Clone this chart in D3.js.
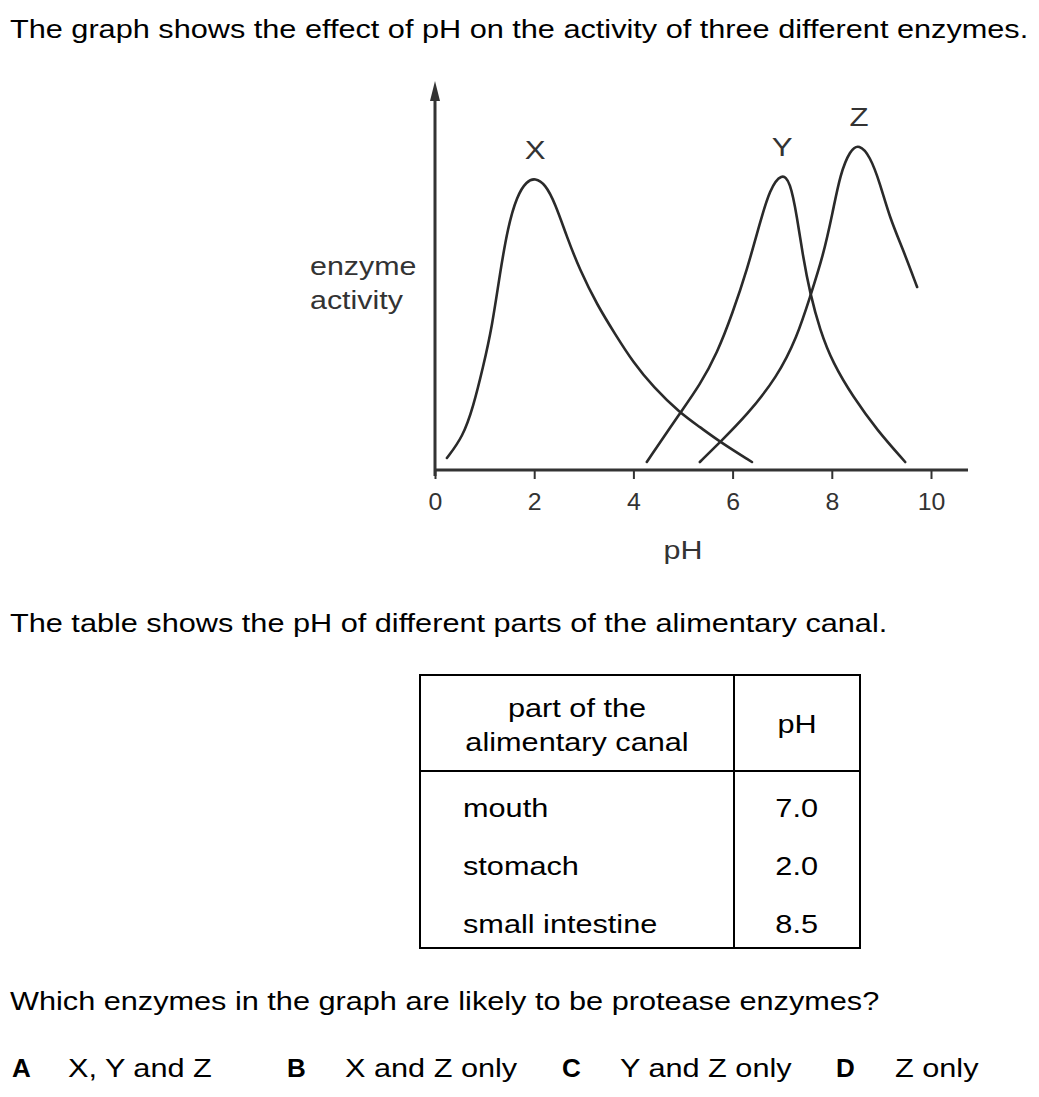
<!DOCTYPE html>
<html>
<head>
<meta charset="utf-8">
<script src="https://cdn.jsdelivr.net/npm/d3@7"></script>
<style>
  html, body { margin: 0; padding: 0; background: #fff; }
  svg { display: block; }
  text { font-family: "Liberation Sans", Arial, sans-serif; fill: #000; }
</style>
</head>
<body>
<script>
// ---------- data ----------
const introText = "The graph shows the effect of pH on the activity of three different enzymes.";
const tableIntro = "The table shows the pH of different parts of the alimentary canal.";
const questionText = "Which enzymes in the graph are likely to be protease enzymes?";
const xTicks = [0, 2, 4, 6, 8, 10];
const xLabel = "pH";
const yLabel = ["enzyme", "activity"];

// enzyme X curve: [pH, activity]
const enzymeX = [[0.24, 12], [0.56, 33], [0.77, 63], [0.97, 103], [1.15, 143], [1.31, 197], [1.47, 243],
  [1.65, 274], [1.85, 289], [2.02, 292], [2.22, 286], [2.42, 267], [2.66, 233], [2.92, 200], [3.27, 165],
  [3.63, 136], [3.99, 108], [4.4, 83], [4.94, 57], [5.34, 43], [5.75, 28], [6.39, 8]];
// enzyme Y curve
const enzymeY = [[4.27, 8], [4.94, 57], [5.34, 85], [5.69, 117], [6.0, 157], [6.29, 200], [6.55, 247],
  [6.75, 281], [6.99, 297], [7.16, 289], [7.3, 253], [7.42, 213], [7.56, 177], [7.76, 140], [8.02, 107],
  [8.43, 73], [8.91, 40], [9.48, 8]];
// enzyme Z curve
const enzymeZ = [[5.34, 8], [5.75, 28], [6.29, 55], [6.9, 93], [7.3, 133], [7.56, 173], [7.82, 213],
  [8.02, 258], [8.17, 296], [8.37, 320], [8.55, 326], [8.77, 314], [8.97, 287], [9.17, 252], [9.44, 220],
  [9.72, 183]];
const curveNames = ["X", "Y", "Z"];
const curvePeaks = [[2.02, 291], [7.0, 294], [8.55, 324]];

const tableHeader = [["part of the", "alimentary canal"], ["pH"]];
const tableParts = ["mouth", "stomach", "small intestine"];
const tablePH = ["7.0", "2.0", "8.5"];

const answerLetters = ["A", "B", "C", "D"];
const answerTexts = ["X, Y and Z", "X and Z only", "Y and Z only", "Z only"];

// ---------- drawing ----------
const W = 1039, H = 1097;
const svg = d3.select("body").append("svg").attr("width", W).attr("height", H);

const SX = 1.18; // horizontal glyph stretch seen in the reference
function addText(parent, x, y, str, o = {}) {
  return parent.append("text")
    .attr("transform", `translate(${x},${y}) scale(${o.sx || SX},1)`)
    .attr("text-anchor", o.anchor || "start")
    .attr("font-size", o.size || 26)
    .attr("font-weight", o.weight || "normal")
    .style("fill", o.fill || "#000")
    .text(str);
}

addText(svg, 10, 38, introText);

const x = d3.scaleLinear().domain([0, 10]).range([435, 931]);
const y = d3.scaleLinear().domain([0, 390]).range([470, 80]);

const axisColor = "#333";
// x axis
const xAxis = svg.append("g").attr("transform", `translate(0,${y(0)})`)
  .call(d3.axisBottom(x).tickValues(xTicks).tickSize(9).tickSizeOuter(0).tickFormat(""));
xAxis.select(".domain").remove();
xAxis.selectAll(".tick line").attr("stroke", axisColor).attr("stroke-width", 2);
xAxis.selectAll(".tick").each(function (d) {
  addText(d3.select(this), 0, 40, String(d), { size: 23, anchor: "middle", sx: 1.08, fill: "#333" });
});
svg.append("line").attr("x1", x(0) - 1).attr("x2", 968).attr("y1", y(0)).attr("y2", y(0))
  .attr("stroke", axisColor).attr("stroke-width", 3);
// y axis
svg.append("line").attr("x1", x(0)).attr("x2", x(0)).attr("y1", y(0) + 6).attr("y2", 95)
  .attr("stroke", axisColor).attr("stroke-width", 3);
svg.append("path")
  .attr("d", `M${x(0)},81 L${x(0) - 5},101 L${x(0) + 5},101 Z`)
  .attr("fill", axisColor);

addText(svg, 683, 559, xLabel, { size: 25, anchor: "middle", sx: 1.22, fill: "#333" });
yLabel.forEach((t, i) => addText(svg, 310, 275 + i * 34, t, { size: 26, sx: 1.17, fill: "#333" }));

// curves
const line = d3.line().x(d => x(d[0])).y(d => y(d[1])).curve(d3.curveBasis);
[enzymeX, enzymeY, enzymeZ].forEach(data => {
  svg.append("path").attr("d", line(data)).attr("fill", "none")
    .attr("stroke", "#2a2a2a").attr("stroke-width", 2.6).attr("stroke-linecap", "round");
});
curveNames.forEach((n, i) => {
  addText(svg, x(curvePeaks[i][0]), y(curvePeaks[i][1]) - 20, n,
    { size: 26, anchor: "middle", sx: 1.2, fill: "#333" });
});

// table intro
addText(svg, 10, 632, tableIntro);

// table
const tx0 = 420, tx1 = 734, tx2 = 860, ty0 = 675, tyH = 771, ty1 = 948;
const tg = svg.append("g");
tg.append("rect").attr("x", tx0).attr("y", ty0).attr("width", tx2 - tx0).attr("height", ty1 - ty0)
  .attr("fill", "none").attr("stroke", "#000").attr("stroke-width", 2);
tg.append("line").attr("x1", tx1).attr("x2", tx1).attr("y1", ty0).attr("y2", ty1).attr("stroke", "#000").attr("stroke-width", 2);
tg.append("line").attr("x1", tx0).attr("x2", tx2).attr("y1", tyH).attr("y2", tyH).attr("stroke", "#000").attr("stroke-width", 2);
tableHeader[0].forEach((t, i) => addText(tg, (tx0 + tx1) / 2, 717 + i * 34, t, { anchor: "middle" }));
addText(tg, (tx1 + tx2) / 2, 733, tableHeader[1][0], { anchor: "middle" });
tableParts.forEach((p, i) => {
  const yy = 817 + i * 58;
  addText(tg, 463, yy, p);
  addText(tg, 818, yy, tablePH[i], { anchor: "end" });
});

// question
addText(svg, 10, 1010, questionText);
const letterX = [12, 287, 562, 836];
const textX = [68, 345, 620, 895];
answerLetters.forEach((l, i) => {
  addText(svg, letterX[i], 1077, l, { weight: "bold", sx: 1.0 });
  addText(svg, textX[i], 1077, answerTexts[i]);
});
</script>
</body>
</html>
